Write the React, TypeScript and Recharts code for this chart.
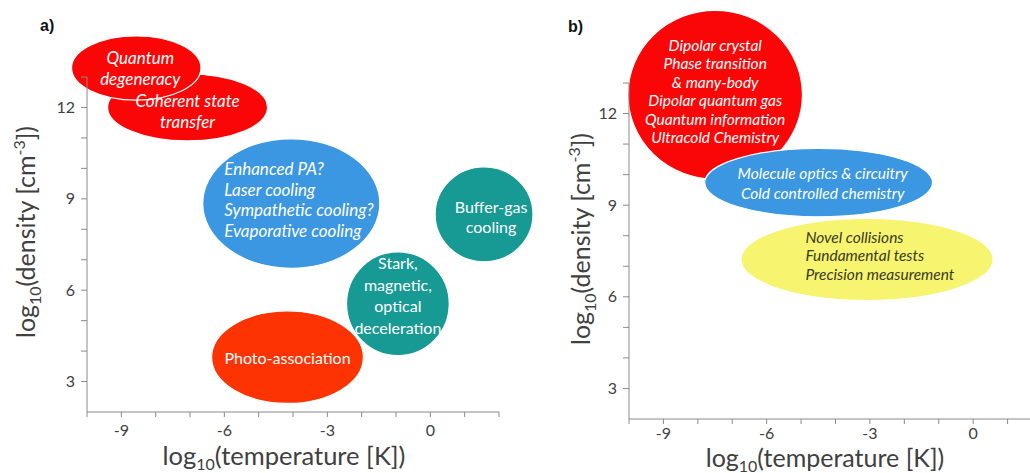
import React from 'react';
import { ScatterChart, Scatter, XAxis, YAxis, ReferenceArea } from 'recharts';

// shared axes (log10 units)
const xTicks = [-10, -9, -8, -7, -6, -5, -4, -3, -2, -1, 0, 1, 2];
const xTickLabels = [-9, -6, -3, 0];
const yTicks = [3, 4, 5, 6, 7, 8, 9, 10, 11, 12, 13];
const yTickLabels = [3, 6, 9, 12];

// panel a) - production methods
const textA = [
  ['Coherent state', 'transfer'],
  ['Quantum', 'degeneracy'],
  ['Enhanced PA?', 'Laser cooling', 'Sympathetic cooling?', 'Evaporative cooling'],
  ['Buffer-gas', 'cooling'],
  ['Stark,', 'magnetic,', 'optical', 'deceleration'],
  ['Photo-association'],
];
const tempLowA = [-9.4, -10.45, -6.63, 0.14, -2.44, -6.37];
const tempHighA = [-4.74, -6.68, -1.47, 2.99, 0.55, -1.95];
const densLowA = [10.9, 12.24, 6.72, 6.93, 3.85, 2.28];
const densHighA = [13.1, 14.35, 10.97, 10.05, 7.26, 5.32];

// panel b) - applications
const textB = [
  ['Dipolar crystal', 'Phase transition', '& many-body', 'Dipolar quantum gas', 'Quantum information', 'Ultracold Chemistry'],
  ['Molecule optics & circuitry', 'Cold controlled chemistry'],
  ['Novel collisions', 'Fundamental tests', 'Precision measurement'],
];
const tempLowB = [-10.03, -7.8, -6.75];
const tempHighB = [-4.96, -1.18, 0.58];
const densLowB = [9.85, 8.62, 5.88];
const densHighB = [15.38, 10.86, 8.57];

// styles
const RED = '#fb0606';
const BLUE = '#3c97e2';
const TEAL = '#179a94';
const ORANGE = '#fd3402';
const YELLOW = '#f7f46f';

const styleA = [
  { fill: RED, italic: true, anchor: 'middle', dx: 0, dy: 4, size: 17, lh: 21, color: '#fff' },
  { fill: RED, italic: true, anchor: 'middle', dx: 4, dy: 1, size: 17, lh: 21, color: '#fff' },
  { fill: BLUE, italic: true, anchor: 'start', dx: -67, dy: -3.5, size: 17, lh: 20.7, color: '#fff' },
  { fill: TEAL, italic: false, anchor: 'middle', dx: 7, dy: 3, size: 16, lh: 20.7, color: '#fff' },
  { fill: TEAL, italic: false, anchor: 'middle', dx: 0, dy: -8, size: 16, lh: 21.5, color: '#fff' },
  { fill: ORANGE, italic: false, anchor: 'middle', dx: 0, dy: 1, size: 16, lh: 21, color: '#fff' },
];
const styleB = [
  { fill: RED, italic: true, anchor: 'middle', dx: 0, dy: -3, size: 15.5, lh: 18.5, color: '#fff' },
  { fill: BLUE, italic: true, anchor: 'middle', dx: 4, dy: 1, size: 15.5, lh: 19.3, color: '#fff' },
  { fill: YELLOW, italic: true, anchor: 'start', dx: -61.5, dy: -3.5, size: 15.5, lh: 18.8, color: '#3b3a22' },
];

const FONT = 'Lato, "Open Sans", sans-serif';
const AXIS = '#8a8a8a';
const INK = '#404040';

function buildRegions(text, lo, hi, dlo, dhi, style) {
  return text.map((lines, i) => ({ lines, x1: lo[i], x2: hi[i], y1: dlo[i], y2: dhi[i], ...style[i] }));
}

const regionsA = buildRegions(textA, tempLowA, tempHighA, densLowA, densHighA, styleA);
const regionsB = buildRegions(textB, tempLowB, tempHighB, densLowB, densHighB, styleB);

const ellipseShape = (fill) => (props: any) => {
  const { x, y, width, height } = props;
  return (
    <ellipse
      cx={x + width / 2}
      cy={y + height / 2}
      rx={Math.abs(width) / 2}
      ry={Math.abs(height) / 2}
      fill={fill}
      stroke="#ffffff"
      strokeWidth={1.2}
    />
  );
};

const labelShape = (r) => (props: any) => {
  const { x, y, width, height } = props;
  const cx = x + width / 2 + r.dx;
  const cy = y + height / 2 + r.dy;
  const first = cy - ((r.lines.length - 1) / 2) * r.lh + r.size * 0.35;
  return (
    <text
      textAnchor={r.anchor}
      fill={r.color}
      fontSize={r.size}
      fontFamily={FONT}
      fontStyle={r.italic ? 'italic' : 'normal'}
    >
      {r.lines.map((line, k) => (
        <tspan key={k} x={cx} y={first + k * r.lh}>
          {line}
        </tspan>
      ))}
    </text>
  );
};

const xFmt = (v) => (xTickLabels.includes(v) ? String(v) : '');
const yFmt = (v) => (yTickLabels.includes(v) ? String(v) : '');

function XTitle({ cx, y, size }) {
  return (
    <text x={cx} y={y} textAnchor="middle" fill={INK} fontSize={size} fontFamily={FONT}>
      log
      <tspan fontSize={16} dy={5}>10</tspan>
      <tspan dy={-5}>(temperature [K])</tspan>
    </text>
  );
}

function YTitle({ x, cy }) {
  return (
    <text
      x={x}
      y={cy}
      transform={`rotate(-90 ${x} ${cy})`}
      textAnchor="middle"
      fill={INK}
      fontSize={25}
      fontFamily={FONT}
    >
      log
      <tspan fontSize={16} dy={6}>10</tspan>
      <tspan dy={-6}>(density [cm</tspan>
      <tspan fontSize={16} dy={-10}>-3</tspan>
      <tspan dy={10}>])</tspan>
    </text>
  );
}

function Panel({ regions, width, margin, yAxisWidth, xAxisHeight, xTickMargin, tag, tagPos, xTitle, yTitle }) {
  return (
    <ScatterChart width={width} height={473} margin={margin}>
      <XAxis
        type="number"
        dataKey="x"
        domain={[-10, 2]}
        ticks={xTicks}
        interval={0}
        allowDataOverflow
        tickFormatter={xFmt}
        height={xAxisHeight}
        stroke={AXIS}
        tickSize={5}
        tickMargin={xTickMargin}
        tick={{ fill: INK, fontSize: 16, fontFamily: FONT }}
      />
      <YAxis
        type="number"
        dataKey="y"
        domain={[2, 13]}
        ticks={yTicks}
        interval={0}
        allowDataOverflow
        tickFormatter={yFmt}
        width={yAxisWidth}
        stroke={AXIS}
        tickSize={6}
        tickMargin={6}
        tick={{ fill: INK, fontSize: 16, fontFamily: FONT }}
      />
      {regions.map((r, i) => (
        <ReferenceArea
          key={`e-${i}`}
          x1={r.x1}
          x2={r.x2}
          y1={r.y1}
          y2={r.y2}
          ifOverflow="visible"
          shape={ellipseShape(r.fill)}
        />
      ))}
      {regions.map((r, i) => (
        <ReferenceArea
          key={`t-${i}`}
          x1={r.x1}
          x2={r.x2}
          y1={r.y1}
          y2={r.y2}
          ifOverflow="visible"
          shape={labelShape(r)}
        />
      ))}
      <Scatter data={[]} isAnimationActive={false} />
      <text x={tagPos[0]} y={tagPos[1]} fontSize={16} fontWeight="bold" fontFamily="'Liberation Sans', Arial" fill="#111">
        {tag}
      </text>
      <XTitle cx={xTitle[0]} y={xTitle[1]} size={xTitle[2]} />
      <YTitle x={yTitle[0]} cy={yTitle[1]} />
    </ScatterChart>
  );
}

export default function App() {
  return (
    <div
      style={{
        position: 'absolute',
        left: 0,
        top: 0,
        width: 1030,
        height: 473,
        overflow: 'hidden',
        background: '#ffffff',
      }}
    >
      <div style={{ position: 'absolute', left: 0, top: 0 }}>
        <Panel
          regions={regionsA}
          width={545}
          margin={{ top: 77, right: 46, bottom: 0, left: 0 }}
          yAxisWidth={87}
          xAxisHeight={61}
          xTickMargin={8}
          tag="a)"
          tagPos={[40, 31]}
          xTitle={[284, 465, 25.5]}
          yTitle={[35, 232]}
        />
      </div>
      <div style={{ position: 'absolute', left: 520, top: 0 }}>
        <Panel
          regions={regionsB}
          width={530}
          margin={{ top: 83, right: 8, bottom: 0, left: 0 }}
          yAxisWidth={109}
          xAxisHeight={54}
          xTickMargin={4}
          tag="b)"
          tagPos={[48, 32]}
          xTitle={[305, 467, 25]}
          yTitle={[70, 239]}
        />
      </div>
    </div>
  );
}
